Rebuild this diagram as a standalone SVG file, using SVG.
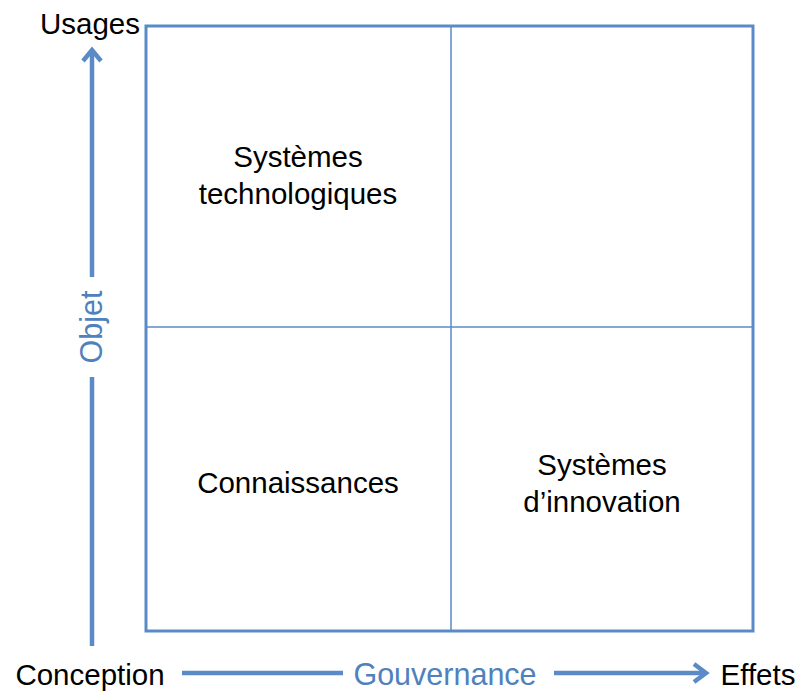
<svg xmlns="http://www.w3.org/2000/svg" width="800" height="692" viewBox="0 0 800 692">
<style>
.lbl{font-family:"Liberation Sans",Arial,sans-serif;font-size:29.5px;fill:#000;text-anchor:middle}
.ax{font-family:"Liberation Sans",Arial,sans-serif;font-size:30.5px;fill:#4F81BD;text-anchor:middle}
.frame{fill:none;stroke:#5B8BC7;stroke-width:3}
.div{fill:none;stroke:#5B8BC7;stroke-width:1.5}
.arr{fill:none;stroke:#5B8BC7;stroke-width:4.5}
</style>
<rect width="800" height="692" fill="#fff"/>
<g id="matrix">
<rect class="frame" x="146" y="26" width="607" height="605"/>
<line class="div" x1="451" y1="26" x2="451" y2="631"/>
<line class="div" x1="146" y1="327" x2="753" y2="327"/>
</g>
<g id="connectors">
<line class="arr" x1="92" y1="646" x2="92" y2="377"/>
<line class="arr" x1="92" y1="277" x2="92" y2="50"/>
<polyline class="arr" points="83,61 92,50 101,61"/>
<line class="arr" x1="182" y1="673" x2="343" y2="673"/>
<line class="arr" x1="554" y1="673" x2="706" y2="673"/>
<polyline class="arr" points="694,664 706,673 694,682"/>
</g>
<g id="q-tl"><text class="lbl" x="298" y="167">Systèmes</text><text class="lbl" x="298" y="204">technologiques</text></g>
<g id="q-bl"><text class="lbl" x="298" y="493">Connaissances</text></g>
<g id="q-br"><text class="lbl" x="602" y="475">Systèmes</text><text class="lbl" x="602" y="512">d’innovation</text></g>
<g id="usages"><text class="lbl" x="90" y="34">Usages</text></g>
<g id="conception"><text class="lbl" x="90" y="685">Conception</text></g>
<g id="effets"><text class="lbl" x="758" y="685">Effets</text></g>
<g id="gouvernance"><text class="ax" x="445" y="685">Gouvernance</text></g>
<g id="objet"><text class="ax" transform="translate(102,327) rotate(-90)" x="0" y="0">Objet</text></g>
</svg>
